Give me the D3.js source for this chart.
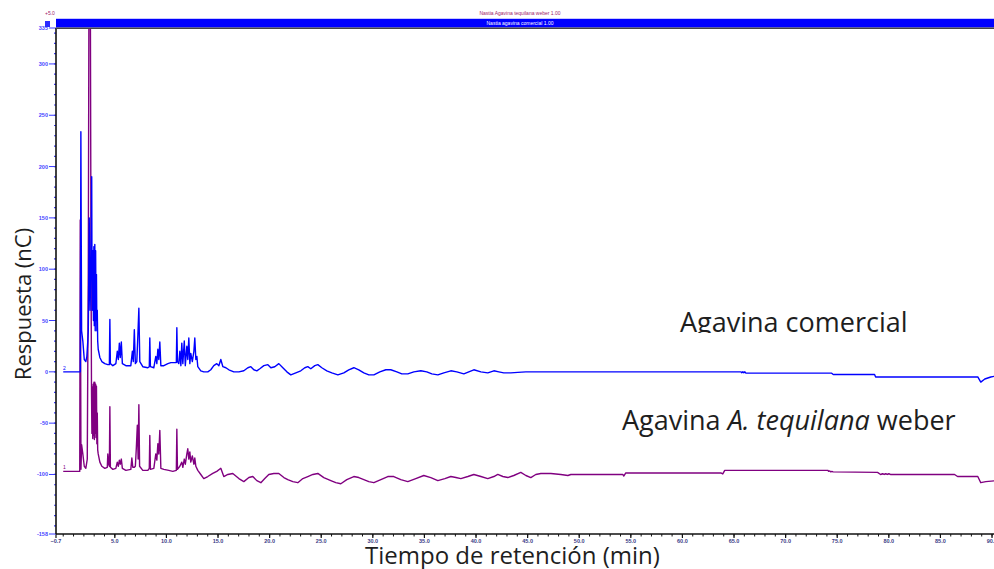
<!DOCTYPE html>
<html>
<head>
<meta charset="utf-8">
<script src="https://cdn.jsdelivr.net/npm/d3@7"></script>
<style>
  body { margin: 0; background: #fff; }
  svg { display: block; }
</style>
</head>
<body>
<script>
"use strict";

// time (min) and response (nC)
const comercial = [
    [0.0, 0], [1.66, 0], [1.71, 234], [1.78, 40], [1.90, 30], [2.04, 12], [2.19, 10], [2.29, 15],
    [2.38, 30], [2.43, 40], [2.52, 150], [2.60, 60], [2.69, 110], [2.76, 190], [2.80, 60], [2.84, 100],
    [2.88, 118], [2.93, 50], [2.97, 122], [3.01, 45], [3.06, 124], [3.10, 40], [3.14, 118], [3.18, 50],
    [3.22, 95], [3.26, 40], [3.30, 60], [3.34, 30], [3.39, 22], [3.55, 14], [3.74, 10],
    [4.03, 8], [4.32, 7], [4.47, 7], [4.52, 51], [4.57, 8], [4.81, 6], [5.10, 8], [5.24, 20],
    [5.34, 12], [5.44, 28], [5.53, 14], [5.63, 29], [5.73, 8], [6.07, 6], [6.55, 6], [6.70, 20],
    [6.79, 10], [6.89, 41], [6.99, 8], [7.13, 10], [7.23, 35], [7.33, 62], [7.42, 10], [7.71, 5],
    [8.20, 4], [8.34, 5], [8.39, 33], [8.45, 5], [8.78, 4], [8.97, 15], [9.07, 8], [9.17, 22],
    [9.26, 12], [9.36, 29], [9.46, 6], [9.75, 6], [10.14, 8], [10.43, 9], [10.96, 9], [11.01, 43],
    [11.07, 10], [11.20, 8], [11.30, 20], [11.40, 6], [11.49, 28], [11.59, 8], [11.73, 30], [11.83, 6],
    [11.98, 25], [12.07, 12], [12.17, 33], [12.27, 8], [12.36, 18], [12.51, 10], [12.66, 20], [12.75, 33],
    [12.85, 12], [12.95, 15], [13.04, 5], [13.33, 1], [13.62, 0], [14.01, 0], [14.30, 2], [14.59, 6],
    [14.88, 8], [15.08, 6], [15.27, 12], [15.47, 5], [15.76, 4], [16.05, 2], [16.53, 0], [17.02, 0],
    [17.50, 1], [17.89, 4], [18.18, 5], [18.47, 2], [18.76, 1], [19.05, 3], [19.44, 6], [19.83, 7],
    [20.12, 4], [20.50, 5], [20.89, 8], [21.28, 4], [21.67, 0], [22.05, -3], [22.54, -1], [23.02, 1],
    [23.41, 4], [23.70, 5], [23.99, 3], [24.38, 6], [24.67, 7], [25.06, 4], [25.54, 1], [26.03, -1],
    [26.61, -3], [27.19, -1], [27.67, 2], [28.16, 4], [28.64, 2], [29.13, -1], [29.61, -3], [30.10, -3],
    [30.68, 0], [31.26, 2], [31.74, 2], [32.33, 0], [32.81, -2], [33.39, -2], [33.97, 0], [34.65, 1],
    [35.23, 0], [35.72, -2], [36.30, -3], [36.88, -1], [37.56, 1], [38.14, 0], [38.82, -2], [39.30, 0],
    [39.79, 2], [40.47, 0], [41.14, -1], [41.73, 1], [42.21, 0], [42.69, -1], [43.37, -1], [44.05, -0.5],
    [44.83, 0], [65.66, 0], [65.75, -0.8], [65.85, 0], [65.95, -1], [66.05, 0], [66.15, -1.3], [66.52, -1.3],
    [74.46, -1.3], [74.56, -2.2], [74.65, -2.6], [78.62, -2.6], [78.72, -5], [88.62, -5], [88.91, -10],
    [89.30, -7], [89.88, -5], [90.46, -4]
];

const tequilana = [
    [0.0, -97], [1.60, -97], [1.65, 148], [1.72, -95], [1.78, -71], [1.90, -80], [2.04, -92], [2.19, -94],
    [2.33, -85], [2.43, 100], [2.50, 400], [2.56, 380], [2.62, 400], [2.69, 120], [2.74, -20], [2.78, -60],
    [2.82, -15], [2.86, -65], [2.90, -12], [2.94, -62], [2.98, -10], [3.02, -66], [3.06, -10], [3.10, -60],
    [3.14, -12], [3.18, -64], [3.22, -14], [3.26, -70], [3.30, -40], [3.34, -76], [3.39, -80], [3.55, -88],
    [3.74, -92], [4.03, -94], [4.27, -93], [4.32, -80], [4.40, -90], [4.47, -92], [4.52, -34], [4.57, -93],
    [4.81, -95], [5.10, -94], [5.24, -88], [5.34, -92], [5.44, -86], [5.53, -90], [5.63, -85], [5.73, -94],
    [6.07, -96], [6.55, -95], [6.65, -84], [6.74, -93], [6.89, -93], [6.99, -92], [7.08, -75], [7.18, -52],
    [7.26, -85], [7.33, -32], [7.40, -92], [7.71, -96], [8.20, -96], [8.34, -94], [8.39, -62], [8.45, -95],
    [8.78, -94], [8.97, -80], [9.07, -86], [9.17, -70], [9.26, -80], [9.36, -57], [9.46, -94], [9.75, -95],
    [10.23, -96], [10.62, -97], [10.96, -96], [11.01, -56], [11.07, -95], [11.30, -92], [11.49, -88], [11.59, -93],
    [11.73, -85], [11.83, -90], [11.98, -80], [12.07, -75], [12.17, -85], [12.27, -78], [12.36, -88], [12.51, -82],
    [12.66, -90], [12.75, -84], [12.85, -92], [13.04, -96], [13.33, -100], [13.62, -104], [14.01, -102], [14.49, -99],
    [14.88, -97], [15.27, -94], [15.56, -102], [15.95, -100], [16.43, -99], [17.02, -104], [17.50, -107], [17.99, -103],
    [18.37, -102], [18.76, -106], [19.15, -108], [19.53, -104], [19.92, -100], [20.41, -99], [20.89, -99], [21.38, -103],
    [21.76, -105], [22.25, -107], [22.73, -108], [23.22, -104], [23.70, -102], [24.19, -100], [24.67, -99], [25.25, -103],
    [25.93, -106], [26.41, -108], [26.90, -109], [27.48, -105], [28.16, -102], [28.64, -103], [29.13, -105], [29.61, -107],
    [30.10, -108], [30.78, -105], [31.45, -102], [32.03, -102], [32.71, -105], [33.39, -107], [34.16, -104], [34.94, -101],
    [35.62, -103], [36.30, -106], [36.98, -104], [37.56, -102], [38.05, -103], [38.53, -104], [39.21, -102], [39.79, -100],
    [40.47, -102], [41.14, -104], [41.73, -102], [42.11, -100], [42.60, -102], [43.08, -103], [43.66, -101], [44.34, -98],
    [44.83, -101], [45.31, -103], [45.79, -100], [46.28, -99], [47.25, -99], [48.22, -100], [48.90, -101], [49.19, -100],
    [54.22, -100], [54.32, -101.5], [54.51, -98.5], [63.72, -98.5], [63.91, -99.5], [64.10, -96], [74.08, -96],
    [74.18, -97], [74.28, -96.5], [74.38, -97.5], [74.48, -97], [74.60, -97.5], [78.91, -98], [79.20, -100],
    [79.40, -99.3], [79.55, -100], [79.70, -99.3], [79.85, -100], [80.00, -99.3], [80.15, -100], [86.37, -100],
    [86.66, -102], [88.62, -102], [88.91, -108], [89.40, -107], [90.46, -106]
];

const xTickValues = [-0.7, 5, 10, 15, 20, 25, 30, 35, 40, 45, 50, 55, 60, 65, 70, 75, 80, 85, 90];
const yTickValues = [-158, -100, -50, 0, 50, 100, 150, 200, 250, 300, 335];

let w = 994;
let h = 569;

// plot area (the picture is cut off on the right)
let plotLeft = 56, plotTop = 28, plotBottom = 534;

let x = d3.scaleLinear().domain([-0.7, 91]).range([plotLeft, plotLeft + 91.7 * 10.32]);
let y = d3.scaleLinear().domain([-158, 335]).range([plotBottom, plotTop]);

let svg = d3.select("body")
    .append("svg")
    .attr("width", w)
    .attr("height", h)
    .style("font-family", "'Open Sans', sans-serif");

let defs = svg.append("defs");
defs.append("clipPath")
    .attr("id", "plotclip")
    .append("rect")
    .attr("x", plotLeft)
    .attr("y", plotTop)
    .attr("width", w - plotLeft)
    .attr("height", plotBottom - plotTop);
defs.append("clipPath")
    .attr("id", "labelclip")
    .append("rect")
    .attr("x", 600)
    .attr("y", 290)
    .attr("width", 380)
    .attr("height", 43);

//traces
let line = d3.line()
    .x(function (d) { return x(d[0]); })
    .y(function (d) { return y(d[1]); });

let traces = svg.append("g").attr("clip-path", "url(#plotclip)");

traces.append("path")
    .datum(tequilana)
    .attr("d", line)
    .attr("fill", "none")
    .attr("stroke", "#800080")
    .attr("stroke-width", 1.4)
    .attr("stroke-linejoin", "round");

traces.append("path")
    .datum(comercial)
    .attr("d", line)
    .attr("fill", "none")
    .attr("stroke", "#0000ff")
    .attr("stroke-width", 1.4)
    .attr("stroke-linejoin", "round");

// trace numbers at the start of each baseline
svg.append("text")
    .attr("x", 63).attr("y", y(0) - 2)
    .style("font", "5px 'Liberation Sans'")
    .attr("fill", "#0000ff")
    .text("2");
svg.append("text")
    .attr("x", 63).attr("y", y(-97) - 2)
    .style("font", "5px 'Liberation Sans'")
    .attr("fill", "#800080")
    .text("1");

//x axis
let xAxis = svg.append("g");
xAxis.append("line")
    .attr("x1", plotLeft).attr("x2", w)
    .attr("y1", plotBottom).attr("y2", plotBottom)
    .attr("stroke", "#111")
    .attr("stroke-width", 1.6);

xAxis.selectAll(".minor")
    .data(d3.range(0, 91, 1))
    .enter()
    .append("line")
    .attr("x1", function (d) { return x(d); })
    .attr("x2", function (d) { return x(d); })
    .attr("y1", plotBottom)
    .attr("y2", plotBottom + 2.5)
    .attr("stroke", "#111")
    .attr("stroke-width", 1);

xAxis.selectAll(".major")
    .data(xTickValues)
    .enter()
    .append("line")
    .attr("x1", function (d) { return x(d); })
    .attr("x2", function (d) { return x(d); })
    .attr("y1", plotBottom)
    .attr("y2", plotBottom + 4)
    .attr("stroke", "#111")
    .attr("stroke-width", 1.2);

xAxis.selectAll("text")
    .data(xTickValues)
    .enter()
    .append("text")
    .attr("x", function (d) { return x(d); })
    .attr("y", 542.5)
    .attr("text-anchor", "middle")
    .style("font", "bold 5.5px 'Liberation Sans'")
    .attr("fill", "#3b3b86")
    .text(d3.format(".1f"));

//y axis
let yAxis = svg.append("g");
yAxis.selectAll(".minor")
    .data(d3.range(-150, 335, 10))
    .enter()
    .append("line")
    .attr("x1", plotLeft - 2)
    .attr("x2", plotLeft)
    .attr("y1", function (d) { return y(d); })
    .attr("y2", function (d) { return y(d); })
    .attr("stroke", "#3a3aff")
    .attr("stroke-width", 1.2);

yAxis.selectAll(".major")
    .data(yTickValues)
    .enter()
    .append("line")
    .attr("x1", 49)
    .attr("x2", plotLeft)
    .attr("y1", function (d) { return y(d); })
    .attr("y2", function (d) { return y(d); })
    .attr("stroke", "#3a3aff")
    .attr("stroke-width", 1);

yAxis.selectAll("text")
    .data(yTickValues)
    .enter()
    .append("text")
    .attr("x", 48)
    .attr("y", function (d) { return y(d) + 2; })
    .attr("text-anchor", "end")
    .style("font", "bold 5.5px 'Liberation Sans'")
    .attr("fill", "#4646ff")
    .text(function (d) { return d; });

yAxis.append("line")
    .attr("x1", plotLeft).attr("x2", plotLeft)
    .attr("y1", plotTop).attr("y2", plotBottom)
    .attr("stroke", "#111")
    .attr("stroke-width", 1.6);

//header bars
svg.append("line")
    .attr("x1", plotLeft).attr("x2", w)
    .attr("y1", 18.5).attr("y2", 18.5)
    .attr("stroke", "#c8c8ff");
svg.append("rect")
    .attr("x", plotLeft).attr("y", 19)
    .attr("width", w - plotLeft).attr("height", 8.5)
    .attr("fill", "#0000ff");
svg.append("line")
    .attr("x1", plotLeft).attr("x2", w)
    .attr("y1", 28.3).attr("y2", 28.3)
    .attr("stroke", "#444")
    .attr("stroke-width", 1.4);
svg.append("rect")
    .attr("x", 45).attr("y", 21)
    .attr("width", 5).attr("height", 6)
    .attr("fill", "#2a2aff");

svg.append("text")
    .attr("x", 520).attr("y", 15)
    .attr("text-anchor", "middle")
    .style("font", "5px 'Liberation Sans'")
    .attr("fill", "#a0206a")
    .text("Nastia Agavina tequilana weber 1.00");
svg.append("text")
    .attr("x", 520).attr("y", 25)
    .attr("text-anchor", "middle")
    .style("font", "5px 'Liberation Sans'")
    .attr("fill", "#ffffff")
    .text("Nastia agavina comercial 1.00");
svg.append("text")
    .attr("x", 45).attr("y", 15)
    .style("font", "5px 'Liberation Sans'")
    .attr("fill", "#a0206a")
    .text("+5.0");
svg.append("text")
    .attr("x", 52).attr("y", 26)
    .style("font", "5px 'Liberation Sans'")
    .attr("fill", "#ffffff")
    .text("2");

//axis titles
svg.append("text")
    .attr("transform", "translate(31,304) rotate(-90)")
    .attr("text-anchor", "middle")
    .style("font-size", "22px")
    .attr("fill", "#1e1e1e")
    .text("Respuesta (nC)");

svg.append("text")
    .attr("x", 365)
    .attr("y", 564)
    .style("font-size", "24px")
    .attr("fill", "#1e1e1e")
    .text("Tiempo de retención (min)");

//series labels
svg.append("text")
    .attr("x", 680)
    .attr("y", 332)
    .attr("clip-path", "url(#labelclip)")
    .style("font-size", "27px")
    .attr("fill", "#1e1e1e")
    .text("Agavina comercial");

let lab = svg.append("text")
    .attr("x", 622)
    .attr("y", 430)
    .style("font-size", "27px")
    .attr("fill", "#1e1e1e");
lab.append("tspan").text("Agavina ");
lab.append("tspan").style("font-style", "italic").text("A. tequilana");
lab.append("tspan").text(" weber");
</script>
</body>
</html>
